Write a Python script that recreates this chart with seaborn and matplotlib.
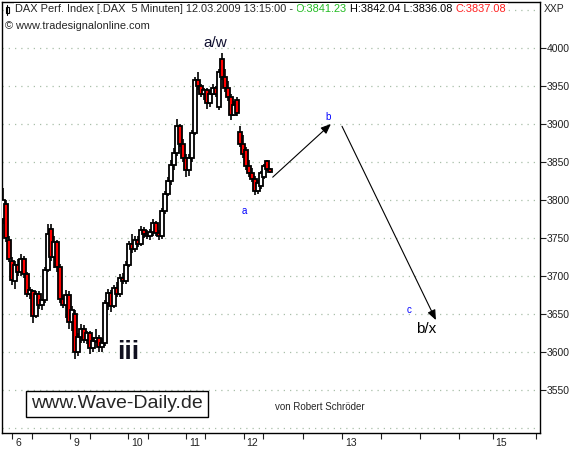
import numpy as np
import pandas as pd
import matplotlib.pyplot as plt
import seaborn as sns
from matplotlib.patches import Rectangle

# 5-minute DAX candles, 6.-12.03.2009 (compressed)
opens = [3775, 3795, 3748, 3720, 3693, 3715, 3705, 3722, 3702, 3676,
         3680, 3648, 3676, 3662, 3668, 3708, 3762, 3725, 3745, 3712,
         3670, 3662, 3675, 3640, 3650, 3600, 3620, 3630, 3616, 3625,
         3605, 3615, 3618, 3606, 3612, 3664, 3678, 3660, 3684, 3676,
         3698, 3694, 3715, 3742, 3735, 3748, 3742, 3760, 3755, 3752,
         3758, 3770, 3756, 3752, 3786, 3808, 3825, 3846, 3862, 3898,
         3874, 3855, 3840, 3855, 3888, 3958, 3950, 3940, 3945, 3928,
         3940, 3948, 3922, 3985, 3962, 3948, 3935, 3912, 3932, 3890,
         3874, 3866, 3845, 3835, 3828, 3812, 3818, 3830, 3851, 3841.23]
highs = [3816, 3800, 3752, 3725, 3720, 3722, 3729, 3726, 3705, 3685,
         3682, 3680, 3680, 3670, 3712, 3768, 3768, 3752, 3748, 3716,
         3675, 3682, 3680, 3660, 3655, 3625, 3637, 3635, 3628, 3628,
         3620, 3630, 3622, 3618, 3668, 3683, 3682, 3688, 3692, 3702,
         3704, 3720, 3746, 3755, 3752, 3752, 3766, 3765, 3760, 3762,
         3775, 3772, 3760, 3790, 3812, 3830, 3852, 3868, 3907, 3900,
         3880, 3860, 3860, 3892, 3962, 3968, 3952, 3948, 3948, 3945,
         3952, 3950, 3972, 3993, 3972, 3957, 3940, 3930, 3936, 3898,
         3885, 3870, 3852, 3842, 3832, 3826, 3838, 3848, 3853, 3842.04]
lows = [3768, 3745, 3718, 3688, 3683, 3700, 3700, 3698, 3672, 3670,
        3638, 3645, 3656, 3655, 3665, 3705, 3720, 3710, 3705, 3665,
        3658, 3645, 3630, 3628, 3591, 3595, 3612, 3612, 3610, 3597,
        3600, 3612, 3600, 3600, 3608, 3655, 3652, 3658, 3672, 3672,
        3690, 3690, 3712, 3730, 3732, 3738, 3740, 3750, 3749, 3748,
        3752, 3752, 3748, 3749, 3782, 3805, 3820, 3840, 3858, 3870,
        3850, 3830, 3832, 3850, 3885, 3945, 3935, 3932, 3920, 3922,
        3938, 3935, 3918, 3958, 3942, 3930, 3905, 3910, 3911, 3870,
        3855, 3840, 3830, 3824, 3806, 3808, 3815, 3828, 3838, 3836.08]
closes = [3800, 3750, 3722, 3695, 3715, 3705, 3722, 3702, 3676, 3682,
          3648, 3676, 3662, 3668, 3708, 3755, 3725, 3745, 3712, 3670,
          3662, 3675, 3640, 3655, 3600, 3620, 3630, 3616, 3625, 3605,
          3615, 3618, 3606, 3612, 3664, 3678, 3660, 3684, 3676, 3698,
          3694, 3715, 3742, 3735, 3748, 3742, 3760, 3755, 3752, 3758,
          3770, 3756, 3752, 3786, 3808, 3825, 3846, 3862, 3898, 3874,
          3855, 3840, 3855, 3888, 3958, 3950, 3940, 3945, 3928, 3940,
          3948, 3940, 3968, 3962, 3948, 3935, 3912, 3925, 3914, 3874,
          3860, 3845, 3835, 3828, 3812, 3822, 3836, 3845, 3841, 3837.08]

# x axis (in bar units): all tick marks, and the day labels
tick_pos = [3.1, 9.6, 22.5, 29, 41.8, 48.3, 61, 67.3, 80.3, 86.7,
            100, 113, 126, 139, 152, 163.3, 177.7]
day_pos = [3.1, 22.5, 41.8, 61, 80.3, 113, 163.3]
day_labels = ["6", "9", "10", "11", "12", "13", "15"]
price_ticks = list(range(3550, 4001, 50))
grid_levels = list(range(3500, 4051, 50))

df = pd.DataFrame({"open": opens, "high": highs, "low": lows, "close": closes})
df["bar"] = np.arange(len(df))
df["up"] = df["close"] >= df["open"]

sns.set_style("white")
plt.rcParams["font.family"] = ["Liberation Sans", "DejaVu Sans"]

fig = plt.figure(figsize=(5.8, 4.49), dpi=100)
ax = fig.add_axes([2 / 580, 16 / 449, 538 / 580, 431 / 449])
ax.set_xlim(-0.33, 179)
ax.set_ylim(3493.4, 4060.5)

for lvl in grid_levels:
    ax.axhline(lvl, color="#a8bfa8", lw=0.9, ls=(0, (1, 4)), zorder=0)

# candles: wick + body
ax.vlines(df["bar"], df["low"], df["high"], color="black", lw=1.2, zorder=2)
body_lo = df[["open", "close"]].min(axis=1)
body_h = (df["close"] - df["open"]).abs().clip(lower=0.8)
ax.bar(df["bar"], body_h, bottom=body_lo, width=1.05,
       color=np.where(df["up"], "white", "#ff0000"),
       edgecolor="black", linewidth=1.3, zorder=3)

# axes
for s in ax.spines.values():
    s.set_color("black")
    s.set_linewidth(1)
ax.yaxis.tick_right()
ax.set_yticks(price_ticks)
ax.set_yticklabels([str(p) for p in price_ticks], fontsize=7.5)
ax.tick_params(axis="y", right=True, length=4, width=0.8, pad=1, colors="#202020")
ax.set_xticks(tick_pos)
ax.set_xticklabels([""] * len(tick_pos))
ax.tick_params(axis="x", bottom=True, length=4, width=0.8, colors="#202020")
for pos, lab in zip(day_pos, day_labels):
    ax.annotate(lab, xy=(pos, 0), xycoords=("data", "axes fraction"),
                xytext=(2, -7.5), textcoords="offset points",
                ha="left", va="center", fontsize=7.5, color="#202020")

# header
fig.add_artist(Rectangle((5.5 / 580, 1 - 13 / 449), 3 / 580, 6 / 449,
                         transform=fig.transFigure, fc="white", ec="black", lw=0.8))
fig.add_artist(plt.Line2D([7 / 580, 7 / 580], [1 - 15 / 449, 1 - 5 / 449],
                          transform=fig.transFigure, color="black", lw=0.8))
bb = dict(fc="white", ec="none", pad=1)
hs = 7.9
t = fig.text(15 / 580, 1 - 9 / 449,
             "DAX Perf. Index [.DAX  5 Minuten] 12.03.2009 13:15:00 - ",
             fontsize=hs, va="center", ha="left", bbox=bb)
t = ax.annotate("O:3841.23", xy=(1, 0.5), xycoords=t, va="center", ha="left",
                fontsize=hs, color="#22bb22", bbox=bb)
t = ax.annotate(" H:3842.04 L:3836.08 ", xy=(1, 0.5), xycoords=t, va="center",
                ha="left", fontsize=hs, color="black", bbox=bb)
ax.annotate("C:3837.08", xy=(1, 0.5), xycoords=t, va="center", ha="left",
            fontsize=hs, color="#ff2020", bbox=bb)
fig.text(5 / 580, 1 - 26 / 449, "\u00a9 www.tradesignalonline.com",
         fontsize=hs, va="center", ha="left", bbox=bb)
fig.text(544 / 580, 1 - 9 / 449, "XXP", fontsize=7.5, va="center", ha="left")

# wave labels and projection arrows
ax.text(70.7, 4006.6, "a/w", fontsize=11, ha="center", va="center", color="#101030")
ax.text(80.3, 3785.5, "a", fontsize=7, ha="center", va="center", color="#0000ff")
ax.text(108.3, 3909, "b", fontsize=7, ha="center", va="center", color="#0000ff")
ax.text(135.3, 3655, "c", fontsize=7, ha="center", va="center", color="#0000ff")
ax.text(141, 3630, "b/x", fontsize=11, ha="center", va="center", color="black")
ax.text(41.7, 3600, "iii", fontsize=19, fontweight="bold", ha="center",
        va="center", color="#101020")
arr = dict(arrowstyle="-|>,head_length=0.6,head_width=0.25", color="black",
           lw=0.8, shrinkA=0, shrinkB=0)
ax.annotate("", xy=(109.3, 3900), xytext=(89.9, 3830), arrowprops=arr)
ax.annotate("", xy=(144.3, 3642), xytext=(113, 3897), arrowprops=arr)

ax.text(38, 3531.6, "www.Wave-Daily.de", fontsize=14, ha="center", va="center",
        bbox=dict(fc="white", ec="black", lw=1, pad=3.5))
ax.text(105.7, 3527.6, "von Robert Schr\u00f6der", fontsize=7, ha="center", va="center")

fig.savefig("out.png", dpi=100)
